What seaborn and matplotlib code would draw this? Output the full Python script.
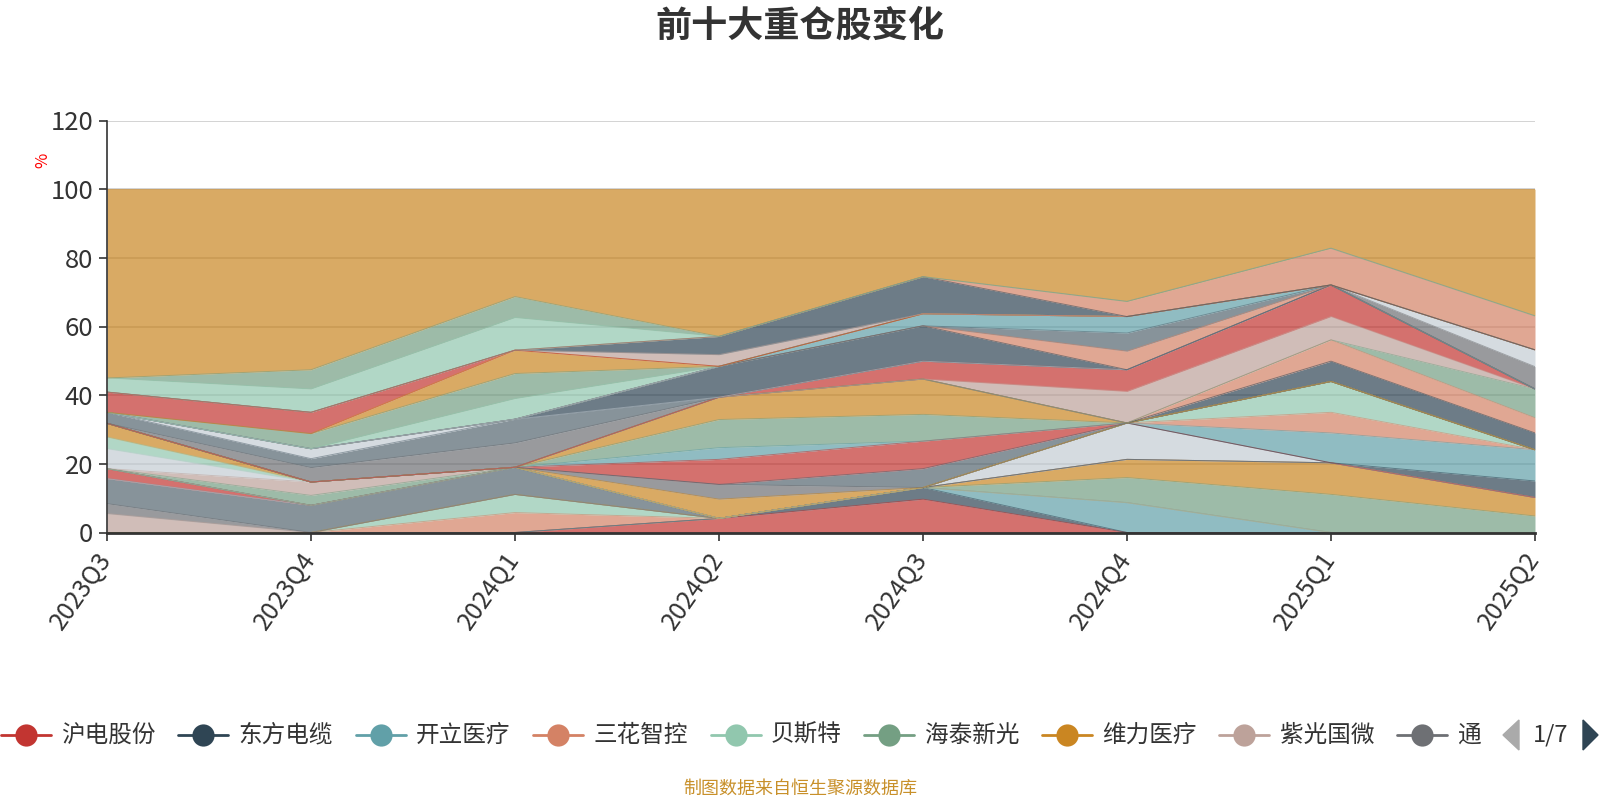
import numpy as np
import pandas as pd
import seaborn as sns
import matplotlib.pyplot as plt
from matplotlib.patches import Polygon
from matplotlib.lines import Line2D
from matplotlib.transforms import Bbox, TransformedBbox

# 季度
quarters = ['2023Q3', '2023Q4', '2024Q1', '2024Q2', '2024Q3', '2024Q4', '2025Q1', '2025Q2']

# 图例第一页可见的名称（即堆叠顺序中的前9个系列）
legend_names = ['沪电股份', '东方电缆', '开立医疗', '三花智控', '贝斯特',
                '海泰新光', '维力医疗', '紫光国微', '通策医疗']

# 各股票占净值比(%)，按堆叠顺序从下往上，每行8个季度
holdings = [
    [0, 0, 0, 4.1, 9.7, 0, 0, 0],
    [0, 0, 0, 0, 3.4, 0, 0, 0],
    [0, 0, 0, 0, 0, 8.7, 0, 0],
    [0, 0, 5.8, 0, 0, 0, 0, 0],
    [0, 0, 5.3, 0, 0, 0, 0, 0],
    [0, 0, 0, 0, 0, 7.3, 11.1, 4.8],
    [0, 0, 0, 0, 0, 5.3, 9.2, 5.4],
    [5.5, 0, 0, 0, 0, 0, 0, 0],
    [2.9, 0, 0, 0, 0, 0, 0, 0],
    [7.3, 7.9, 7.9, 0, 0, 0, 0, 0],
    [0, 0, 0, 0, 0, 10.6, 0, 0],
    [2.9, 0, 0, 0, 0, 0, 0, 0],
    [0, 0, 0, 0, 0, 0, 0, 4.8],
    [0, 0, 0, 0, 0, 0, 8.7, 9.1],
    [0, 0, 0, 0, 0, 0, 6.0, 0],
    [0, 0, 0, 0, 0, 0, 9.0, 0],
    [0, 2.9, 0, 0, 0, 0, 0, 0],
    [0, 3.9, 0, 0, 0, 0, 0, 0],
    [5.8, 0, 0, 0, 0, 0, 0, 0],
    [3.4, 0, 0, 0, 0, 0, 0, 0],
    [4.0, 0, 0, 0, 0, 0, 0, 0],
    [0, 0, 0, 5.6, 0, 0, 0, 0],
    [0, 0, 0, 4.3, 0, 0, 0, 0],
    [0, 0, 0, 0, 5.5, 0, 0, 0],
    [0, 0, 0, 7.3, 8.0, 0, 0, 0],
    [0, 0, 0, 3.4, 0, 0, 0, 0],
    [0, 0, 0, 8.2, 7.8, 0, 0, 0],
    [0, 0, 0, 6.5, 10.3, 0, 0, 0],
    [0, 0, 0, 0, 0, 0, 5.9, 4.9],
    [0, 0, 0, 0, 0, 0, 6.2, 4.4],
    [0, 0, 0, 0, 0, 0, 0, 8.4],
    [0, 0, 0, 0, 0, 9.2, 6.8, 0],
    [0, 0, 0, 0, 5.2, 6.3, 9.2, 0],
    [0, 4.2, 7.1, 0, 0, 0, 0, 0],
    [3.2, 2.6, 6.9, 0, 0, 0, 0, 0],
    [0, 2.9, 0, 0, 0, 0, 0, 0],
    [0, 0, 0, 9.0, 10.3, 0, 0, 0],
    [0, 0, 0, 0, 0, 5.4, 0, 0],
    [0, 0, 0, 0, 0, 5.3, 0, 0],
    [0, 0, 0, 0, 3.5, 4.8, 0, 0],
    [0, 0, 0, 0, 0, 0, 0, 6.5],
    [0, 0, 0, 0, 0, 0, 0, 4.9],
    [0, 0, 6.0, 0, 0, 0, 0, 0],
    [0, 4.4, 7.3, 0, 0, 0, 0, 0],
    [0, 0, 6.8, 0, 0, 0, 0, 0],
    [5.9, 6.2, 0, 0, 0, 0, 0, 0],
    [0, 0, 0, 3.4, 0, 0, 0, 0],
    [0, 0, 0, 5.3, 10.8, 0, 0, 0],
    [0, 0, 0, 0, 0, 4.4, 10.7, 9.9],
    [4.1, 6.8, 9.5, 0, 0, 0, 0, 0],
    [0, 5.6, 6.1, 0, 0, 0, 0, 0],
]

# echarts 默认调色板
palette = ['#c23531', '#2f4554', '#61a0a8', '#d48265', '#91c7ae', '#749f83',
           '#ca8622', '#bda29a', '#6e7074', '#546570', '#c4ccd3']
# 每个系列用的调色板序号
holding_color_idx = [0, 1, 2, 3, 4, 5, 6, 7, 8, 9, 10, 0, 1, 2, 3, 4, 5, 7, 10, 4,
                     6, 6, 8, 9, 0, 2, 5, 6, 1, 3, 5, 7, 0, 8, 9, 10, 1, 3, 9, 2,
                     8, 10, 4, 5, 6, 0, 7, 1, 3, 4, 5]
other_color_idx = 6

W, H = 1600, 800


def fx(px):
    return px / W


def fy(py):
    return 1 - py / H


sns.set_theme(style='white')
plt.rcParams['font.family'] = ['Noto Sans CJK SC', 'DejaVu Sans']

values = np.array(holdings, dtype=float)
other = 100 - values.sum(axis=0)
stack = np.vstack([values, other])
colors = [palette[i] for i in holding_color_idx] + [palette[other_color_idx]]
x = np.arange(len(quarters))

fig = plt.figure(figsize=(16, 8), dpi=100)
ax = fig.add_axes([fx(107), fy(532.5), fx(1535) - fx(107), fy(120.5) - fy(532.5)])

ax.yaxis.grid(True, color='#cccccc', linewidth=1.2)
ax.set_axisbelow(True)
ax.stackplot(x, stack, colors=colors, alpha=0.7, linewidth=0)

# 每个系列的上边线
tops = np.cumsum(stack, axis=0)
line_df = pd.DataFrame({
    'x': np.tile(x, len(stack)),
    'top': tops.ravel(),
    'sid': np.repeat([f's{i:02d}' for i in range(len(stack))], len(x)),
})
line_pal = {f's{i:02d}': c for i, c in enumerate(colors)}
sns.lineplot(data=line_df, x='x', y='top', hue='sid', palette=line_pal,
             estimator=None, sort=False, legend=False, linewidth=0.7,
             alpha=0.55, ax=ax)

ax.set_xlim(0, len(quarters) - 1)
ax.set_ylim(0, 120)
ax.set_yticks(range(0, 121, 20))
ax.set_xticks(x)
ax.set_xticklabels(quarters)
ax.set_xlabel('')
ax.set_ylabel('')
for s in ['top', 'right']:
    ax.spines[s].set_visible(False)
ax.spines['left'].set_color('#333333')
ax.spines['left'].set_linewidth(1.2)
ax.spines['bottom'].set_color('#333333')
ax.spines['bottom'].set_linewidth(2)
ax.tick_params(axis='y', left=True, length=6, width=1.2, color='#333333',
               labelsize=18.5, labelcolor='#333333', pad=4)
ax.tick_params(axis='x', bottom=True, length=6, width=1.2, color='#333333',
               labelsize=18, labelcolor='#333333', pad=10)
plt.setp(ax.get_xticklabels(), rotation=55, ha='right', va='center',
         rotation_mode='anchor')

fig.text(0.5, fy(26), '前十大重仓股变化', ha='center', va='center',
         fontsize=26, fontweight='bold', color='#333333')
fig.text(fx(43), fy(160), '%', ha='center', va='center', rotation=90,
         fontsize=12, color='red')
fig.text(0.5, fy(789), '制图数据来自恒生聚源数据库', ha='center', va='center',
         fontsize=13, color='#c8902a')

# 分页图例（第1页），最后一项被翻页按钮截断
ly = fy(735)
clip_right = 1481
clip = TransformedBbox(Bbox([[0, 0], [fx(clip_right), 1]]), fig.transFigure)
char_w = 23.75
cx = 25.5
for i, name in enumerate(legend_names):
    c = palette[holding_color_idx[i]]
    fig.add_artist(Line2D([fx(cx - 25), fx(cx + 25)], [ly, ly], color=c,
                          linewidth=2, transform=fig.transFigure))
    fig.add_artist(Line2D([fx(cx)], [ly], marker='o', markersize=16, color=c,
                          markeredgewidth=0, transform=fig.transFigure))
    tx = cx + 35.5
    # 只画出截断范围内能露出的字
    n_vis = min(len(name), int(np.ceil((clip_right - tx) / char_w)))
    t = fig.text(fx(tx), ly, name[:n_vis], ha='left', va='center',
                 fontsize=17, color='#333333')
    t.set_clip_box(clip)
    t.set_clip_on(True)
    cx += 35.5 + char_w * len(name) + 47

fig.add_artist(Polygon([[fx(1519), fy(720)], [fx(1519), fy(750)], [fx(1503), fy(735)]],
                       closed=True, color='#aaaaaa', transform=fig.transFigure))
fig.text(fx(1551), ly, '1/7', ha='center', va='center', fontsize=17, color='#333333')
fig.add_artist(Polygon([[fx(1583), fy(720)], [fx(1583), fy(750)], [fx(1598), fy(735)]],
                       closed=True, color='#2f4554', transform=fig.transFigure))

fig.savefig('out.png', dpi=100)
